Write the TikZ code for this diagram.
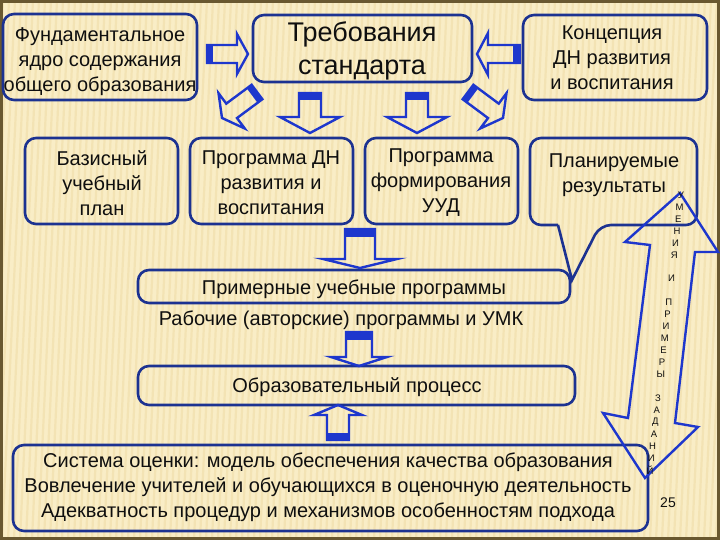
\documentclass[tikz,border=0pt]{standalone}
\usepackage{fontspec}
\setmainfont{Liberation Sans}
\usetikzlibrary{calc}
\definecolor{bgc}{RGB}{249,237,198}
\definecolor{stripec}{RGB}{243,227,180}
\definecolor{framec}{RGB}{105,88,48}
\definecolor{boxc}{RGB}{28,50,145}
\definecolor{arrc}{RGB}{30,55,205}
\definecolor{txtc}{RGB}{15,15,15}
\tikzset{
 boxline/.style={draw=boxc, line width=2.6pt, rounded corners=11pt},
 box/.style={boxline, inner sep=0pt},
 txt/.style={align=center, text=txtc, inner sep=0pt, font=\fontsize{20}{25}\selectfont},
 arrline/.style={draw=arrc, line width=2.4pt, line join=miter},
 vletter/.style={text=txtc, inner sep=0pt, font=\fontsize{9.5}{10}\selectfont},
 pics/barrow/.style n args={5}{code={
   \draw[arrline] (0,-#2) -- ({#1-#4},-#2) -- ({#1-#4},-#3) -- (#1,0) -- ({#1-#4},#3) -- ({#1-#4},#2) -- (0,#2) -- cycle;
   \fill[arrc] (0,-#2) rectangle (#5,#2);
 }},
}
\begin{document}
\begin{tikzpicture}[x=1pt,y=-1pt]
\useasboundingbox (0,0) rectangle (720,540);
% background
\fill[bgc] (0,0) rectangle (720,540);
\begin{scope}
\clip (0,0) rectangle (720,540);
\foreach \x in {-40,-34,...,720} \draw[stripec, line width=2.2pt] (\x,540) -- ({\x+25},0);
\end{scope}
\draw[framec, line width=3pt] (1.5,1.5) rectangle (718.5,538.5);

% boxes
\node[box, minimum width=194pt, minimum height=86pt] (b1) at (100,57) {};
\node[box, minimum width=219pt, minimum height=67pt] (b2) at (362.5,48.5) {};
\node[box, minimum width=184pt, minimum height=85pt] (b3) at (615,57.5) {};
\node[box, minimum width=153pt, minimum height=86pt] (b4) at (101.5,181) {};
\node[box, minimum width=163pt, minimum height=86pt] (b5) at (271.5,181) {};
\node[box, minimum width=153pt, minimum height=86pt] (b6) at (441.5,181) {};
\node[box, minimum width=432pt, minimum height=33pt] (b8) at (354,286.5) {};
\node[box, minimum width=437pt, minimum height=39pt] (b10) at (356.5,385.5) {};
\node[box, minimum width=635pt, minimum height=86pt] (b11) at (330.5,488) {};
% callout
\coordinate (ctip) at (572,280);
\draw[draw=boxc, line width=2.6pt, line join=miter] (558,225) [rounded corners=11pt] -- (530,225) -- (530,138) -- (697,138) -- (697,225) -- (600,225) [sharp corners] -- (ctip) -- (558,225);

% texts
\node[txt] (t1) at (100,62) {Фундаментальное\\ядро содержания\\общего образования};
\node[txt, font=\fontsize{27}{33}\selectfont] (t2) at (362,51) {Требования\\стандарта};
\node[txt] (t3) at (612,58) {Концепция\\ДН развития\\и воспитания};
\node[txt] (t4) at (102,183) {Базисный\\учебный\\план};
\node[txt] (t5) at (271,183) {Программа ДН\\развития и\\воспитания};
\node[txt] (t6) at (441,183) {Программа\\формирования\\УУД};
\node[txt] (t7) at (614,175) {Планируемые\\результаты};
\node[txt] (t8) at (354,289) {Примерные учебные программы};
\node[txt] (t9) at (341,320) {Рабочие (авторские) программы и УМК};
\node[txt] (t10) at (357,387) {Образовательный процесс};
\node[txt] (t11) at (328,487) {Система оценки: модель обеспечения качества образования\\Вовлечение учителей и обучающихся в оценочную деятельность\\Адекватность процедур и механизмов особенностям подхода};
\node[txt, font=\fontsize{14}{16}\selectfont] (t12) at (668,503) {25};

% block arrows
\coordinate (a1) at (207,54);
\coordinate (a2) at (520,54);
\coordinate (a3) at (257,92);
\coordinate (a4) at (468,92);
\coordinate (a5) at (310,93);
\coordinate (a6) at (417,93);
\coordinate (a7) at (360,229);
\coordinate (a8) at (359,332);
\coordinate (a9) at (338,440);
\pic at (a1) {barrow={41}{9}{20}{11}{6}};
\pic[rotate=180] at (a2) {barrow={43}{9}{21}{11}{7}};
\pic[rotate=216.6] at (a3) {barrow={43.6}{9}{22}{12}{6}};
\pic[rotate=-36.6] at (a4) {barrow={43.6}{9}{22}{12}{6}};
\pic[rotate=-90] at (a5) {barrow={40}{11}{30}{16}{7}};
\pic[rotate=-90] at (a6) {barrow={40}{11}{30}{16}{7}};
\pic[rotate=-90] at (a7) {barrow={39}{15}{37}{9}{8}};
\pic[rotate=-90] at (a8) {barrow={34}{13}{28}{9}{8}};
\pic[rotate=90] at (a9) {barrow={35}{11}{24}{10}{7}};

% big double arrow
\draw[arrline] (680,193) -- (718,252) -- (695,252) -- (675,423) -- (698,427) -- (645,478) -- (603,413) -- (628,418) -- (650,245) -- (625,242) -- cycle;
\foreach \ch/\i in {У/0,М/1,Е/2,Н/3,И/4,Я/5,И/7,П/9,Р/10,И/11,М/12,Е/13,Р/14,Ы/15,З/17,А/18,Д/19,А/20,Н/21,И/22,Й/23}
  \node[vletter] (v\i) at ({681-1.35*\i},{195+11.96*\i}) {\ch};
\end{tikzpicture}
\end{document}
